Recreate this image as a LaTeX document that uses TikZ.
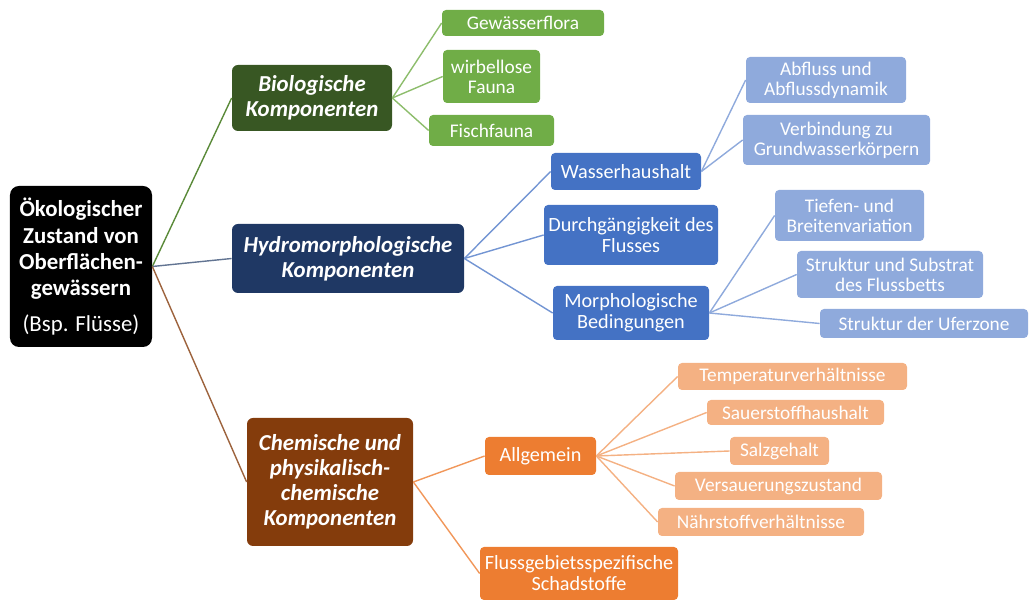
\documentclass[tikz,border=0pt]{standalone}
\usepackage{fontspec}
\setmainfont{Carlito}
\usepackage{xcolor}
\usepackage{tikz}

\definecolor{rootblack}{HTML}{000000}
\definecolor{biodark}{HTML}{385723}
\definecolor{hydrodark}{HTML}{1F3864}
\definecolor{chemdark}{HTML}{843C0C}
\definecolor{bioleaf}{HTML}{70AD47}
\definecolor{hydromid}{HTML}{4472C4}
\definecolor{hydroleaf}{HTML}{8FAADC}
\definecolor{chemmid}{HTML}{ED7D31}
\definecolor{chemleaf}{HTML}{F4B183}

\tikzset{
  box/.style={text=white, align=center, inner sep=0pt, rounded corners=0.08cm},
  rootbox/.style={box, fill=rootblack, rounded corners=0.18cm, font=\bfseries\fontsize{13}{15}\selectfont},
  mainbox/.style={box, rounded corners=0.12cm, font=\bfseries\itshape\fontsize{13}{14.3}\selectfont},
  midbox/.style={box, font=\fontsize{11.5}{12}\selectfont},
  leafbox/.style={box, font=\fontsize{11}{11.4}\selectfont},
  link/.style={line width=0.8pt}
}

\begin{document}
\begin{tikzpicture}[x=1cm, y=1cm]
	\path (0,0) to (20.6,-12.02);

	\node[rootbox, minimum width=2.84cm, minimum height=3.22cm] (root) at (1.62,-5.33) {Ökologischer\\Zustand von\\Oberflächen-\\gewässern\\[5pt]\mdseries(Bsp. Flüsse)};

	\node[mainbox, fill=biodark, minimum width=3.2cm, minimum height=1.32cm] (bio) at (6.24,-1.96) {Biologische\\Komponenten};
	\node[mainbox, fill=hydrodark, minimum width=4.64cm, minimum height=1.38cm] (hydro) at (6.96,-5.17) {Hydromorphologische\\Komponenten};
	\node[mainbox, fill=chemdark, minimum width=3.32cm, minimum height=2.56cm] (chem) at (6.60,-9.64) {Chemische und\\physikalisch-\\chemische\\Komponenten};

	\node[leafbox, fill=bioleaf, minimum width=3.24cm, minimum height=0.52cm] (flora) at (10.46,-0.46) {Gewässerflora};
	\node[leafbox, fill=bioleaf, minimum width=1.94cm, minimum height=1.06cm] (fauna) at (9.83,-1.53) {wirbellose\\Fauna};
	\node[leafbox, fill=bioleaf, minimum width=2.5cm, minimum height=0.62cm] (fisch) at (9.83,-2.61) {Fischfauna};

	\node[midbox, fill=hydromid, minimum width=3.0cm, minimum height=0.74cm] (wasser) at (12.52,-3.43) {Wasserhaushalt};
	\node[midbox, fill=hydromid, minimum width=3.48cm, minimum height=1.2cm] (durch) at (12.62,-4.70) {Durchgängigkeit des\\Flusses};
	\node[midbox, fill=hydromid, minimum width=3.12cm, minimum height=1.08cm] (morph) at (12.62,-6.26) {Morphologische\\Bedingungen};

	\node[leafbox, fill=hydroleaf, minimum width=3.2cm, minimum height=0.92cm] (abfluss) at (16.52,-1.60) {Abfluss und\\Abflussdynamik};
	\node[leafbox, fill=hydroleaf, minimum width=3.74cm, minimum height=1.0cm] (grund) at (16.73,-2.80) {Verbindung zu\\Grundwasserkörpern};
	\node[leafbox, fill=hydroleaf, minimum width=2.98cm, minimum height=1.02cm] (tiefe) at (16.99,-4.31) {Tiefen- und\\Breitenvariation};
	\node[leafbox, fill=hydroleaf, minimum width=3.72cm, minimum height=0.94cm] (bett) at (17.80,-5.49) {Struktur und Substrat\\des Flussbetts};
	\node[leafbox, fill=hydroleaf, minimum width=4.16cm, minimum height=0.58cm] (ufer) at (18.48,-6.47) {Struktur der Uferzone};

	\node[midbox, fill=chemmid, minimum width=2.22cm, minimum height=0.76cm] (allg) at (10.81,-9.12) {Allgemein};
	\node[midbox, fill=chemmid, minimum width=3.96cm, minimum height=1.06cm] (schad) at (11.58,-11.47) {Flussgebietsspezifische\\Schadstoffe};

	\node[leafbox, fill=chemleaf, minimum width=4.58cm, minimum height=0.54cm] (temp) at (15.85,-7.53) {Temperaturverhältnisse};
	\node[leafbox, fill=chemleaf, minimum width=3.54cm, minimum height=0.5cm] (sauer) at (15.91,-8.25) {Sauerstoffhaushalt};
	\node[leafbox, fill=chemleaf, minimum width=1.98cm, minimum height=0.56cm] (salz) at (15.59,-9.02) {Salzgehalt};
	\node[leafbox, fill=chemleaf, minimum width=4.14cm, minimum height=0.56cm] (versauer) at (15.57,-9.72) {Versauerungszustand};
	\node[leafbox, fill=chemleaf, minimum width=4.12cm, minimum height=0.56cm] (naehr) at (15.22,-10.44) {Nährstoffverhältnisse};

	\draw[link, color=bioleaf!80!black] (root.east) -- (bio.west);
	\draw[link, color=hydrodark!70] (root.east) -- (hydro.west);
	\draw[link, color=chemdark!80] (root.east) -- (chem.west);

	\draw[link, color=bioleaf!80] (bio.east) -- (flora.west);
	\draw[link, color=bioleaf!80] (bio.east) -- (fauna.west);
	\draw[link, color=bioleaf!80] (bio.east) -- (fisch.west);

	\draw[link, color=hydromid!75] (hydro.east) -- (wasser.west);
	\draw[link, color=hydromid!75] (hydro.east) -- (durch.west);
	\draw[link, color=hydromid!75] (hydro.east) -- (morph.west);

	\draw[link, color=hydroleaf] (wasser.east) -- (abfluss.west);
	\draw[link, color=hydroleaf] (wasser.east) -- (grund.west);
	\draw[link, color=hydroleaf] (morph.east) -- (tiefe.west);
	\draw[link, color=hydroleaf] (morph.east) -- (bett.west);
	\draw[link, color=hydroleaf] (morph.east) -- (ufer.west);

	\draw[link, color=chemmid!80] (chem.east) -- (allg.west);
	\draw[link, color=chemmid!80] (chem.east) -- (schad.west);

	\draw[link, color=chemleaf] (allg.east) -- (temp.west);
	\draw[link, color=chemleaf] (allg.east) -- (sauer.west);
	\draw[link, color=chemleaf] (allg.east) -- (salz.west);
	\draw[link, color=chemleaf] (allg.east) -- (versauer.west);
	\draw[link, color=chemleaf] (allg.east) -- (naehr.west);
\end{tikzpicture}
\end{document}
